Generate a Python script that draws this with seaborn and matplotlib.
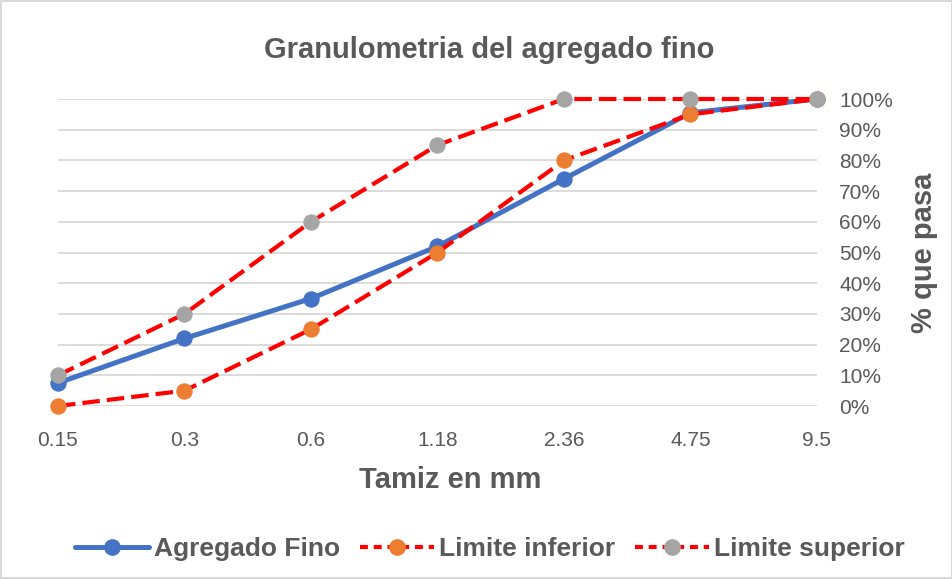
import matplotlib
matplotlib.use("Agg")
import matplotlib.pyplot as plt
import seaborn as sns
import pandas as pd
from matplotlib.lines import Line2D
from matplotlib.ticker import PercentFormatter

tamices = ["0.15", "0.3", "0.6", "1.18", "2.36", "4.75", "9.5"]
agregado_fino = [0.075, 0.22, 0.35, 0.52, 0.74, 0.955, 1.0]
limite_inferior = [0.0, 0.05, 0.25, 0.50, 0.80, 0.95, 1.0]
limite_superior = [0.10, 0.30, 0.60, 0.85, 1.0, 1.0, 1.0]

sns.set_theme(style="white")
plt.rcParams["font.family"] = ["Liberation Sans", "DejaVu Sans"]

TXT = "#595959"
BLUE = "#4472C4"
ORANGE = "#ED7D31"
GRAY = "#A5A5A5"
RED = "#FF0000"
LWB = 3.6
LWR = 3.0
MS = 11
DASH = (4.2, 1.7)

fig = plt.figure(figsize=(9.53, 5.79), dpi=100)
fig.patch.set_edgecolor("#D9D9D9")
fig.patch.set_linewidth(1.5)
ax = fig.add_axes([58/953, 1-406/579, (817-58)/953, (406-99)/579])

df = pd.DataFrame({"Tamiz": tamices, "Agregado Fino": agregado_fino,
                   "Limite inferior": limite_inferior, "Limite superior": limite_superior})

sns.lineplot(data=df, x="Tamiz", y="Agregado Fino", ax=ax, color=BLUE, lw=LWB,
             marker="o", markersize=MS, markeredgecolor=BLUE, markerfacecolor=BLUE,
             zorder=3, clip_on=False)
sns.lineplot(data=df, x="Tamiz", y="Limite inferior", ax=ax, color=RED, lw=LWR,
             marker="o", markersize=MS, markeredgecolor=ORANGE,
             markerfacecolor=ORANGE, zorder=4, clip_on=False)
sns.lineplot(data=df, x="Tamiz", y="Limite superior", ax=ax, color=RED, lw=LWR,
             marker="o", markersize=MS, markeredgecolor=GRAY,
             markerfacecolor=GRAY, zorder=5, clip_on=False)
for ln in ax.lines[1:]:
    ln.set_dashes(DASH)
    ln.set_dash_capstyle("butt")

ax.set_xlim(0, len(tamices) - 1)
ax.set_ylim(0, 1)
ax.set_yticks([i / 10 for i in range(11)])
ax.yaxis.set_major_formatter(PercentFormatter(1.0, decimals=0))
ax.yaxis.tick_right()
ax.yaxis.set_label_position("right")
ax.grid(axis="y", color="#D9D9D9", lw=1.3, zorder=0)
ax.grid(axis="x", visible=False)
for s in ax.spines.values():
    s.set_visible(False)
ax.tick_params(axis="both", length=0, labelsize=15, labelcolor=TXT)
ax.tick_params(axis="y", pad=16)
ax.tick_params(axis="x", pad=18)
ax.set_xticks(range(len(tamices)))
ax.set_xticklabels(tamices)
ax.set_xlabel("Tamiz en mm", fontsize=21, fontweight="bold", color=TXT, labelpad=12)
ax.xaxis.set_label_coords((450-58)/(817-58), -0.197)
ax.set_ylabel("% que pasa", fontsize=21, fontweight="bold", color=TXT, labelpad=12)
fig.text(489/953, 1-50/579, "Granulometria del agregado fino", fontsize=21,
         fontweight="bold", color=TXT, ha="center", va="center")

handles = [
    Line2D([], [], color=BLUE, lw=LWB, marker="o", markersize=MS, markerfacecolor=BLUE, markeredgecolor=BLUE),
    Line2D([], [], color=RED, lw=LWR, dashes=(1.9, 1.4), marker="o", markersize=MS, markerfacecolor=ORANGE, markeredgecolor=ORANGE),
    Line2D([], [], color=RED, lw=LWR, dashes=(1.9, 1.4), marker="o", markersize=MS, markerfacecolor=GRAY, markeredgecolor=GRAY),
]
leg = fig.legend(handles, ["Agregado Fino", "Limite inferior", "Limite superior"],
                 loc="center", bbox_to_anchor=(490/953, 1-549/579), ncol=3, frameon=False,
                 handlelength=2.8, handletextpad=0.2, columnspacing=0.75,
                 prop={"size": 19, "weight": "bold"})
for t in leg.get_texts():
    t.set_color(TXT)

fig.savefig("out.png", dpi=100)
